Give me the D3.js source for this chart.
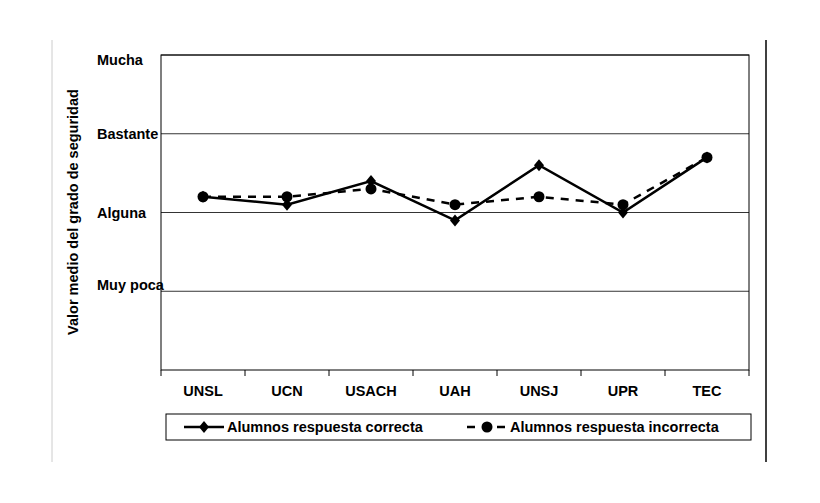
<!DOCTYPE html>
<html><head><meta charset="utf-8">
<script src="https://cdn.jsdelivr.net/npm/d3@7"></script>
<style>body{margin:0;background:#fff}text{font-family:"Liberation Sans",Arial,sans-serif;font-weight:bold}</style>
</head><body><svg id="c" width="820" height="503"></svg>
<script>
const categories = ["UNSL", "UCN", "USACH", "UAH", "UNSJ", "UPR", "TEC"];
const correcta = [2.2, 2.1, 2.4, 1.9, 2.6, 2.0, 2.7];
const incorrecta = [2.2, 2.2, 2.3, 2.1, 2.2, 2.1, 2.7];
const levels = [1, 2, 3, 4];
const levelLabels = ["Muy poca", "Alguna", "Bastante", "Mucha"];
const labelShift = [-1, 5, 5, 10];

const svg = d3.select("#c");
const L = 161, R = 749, T = 55, B = 370;
const FS = 14.5;
const x = d3.scaleBand().domain(categories).range([L, R]);
const y = d3.scaleLinear().domain([0, 4]).range([B, T]);

svg.append("line").attr("x1", 52).attr("x2", 52).attr("y1", 40).attr("y2", 462).attr("stroke", "#ccc");
svg.append("line").attr("x1", 766).attr("x2", 766).attr("y1", 40).attr("y2", 462).attr("stroke", "#000").attr("stroke-width", 1.5);

// grid
svg.selectAll(".g").data(levels).join("line")
  .attr("x1", L).attr("x2", R).attr("y1", d => y(d)).attr("y2", d => y(d))
  .attr("stroke", "#000").attr("stroke-width", 0.8);
svg.append("rect").attr("x", L).attr("y", T).attr("width", R - L).attr("height", B - T)
  .attr("fill", "none").attr("stroke", "#000");

svg.selectAll(".yl").data(levels).join("text")
  .attr("x", 97).attr("y", (d, i) => y(d) + labelShift[i]).attr("font-size", FS).text((d, i) => levelLabels[i]);

const xa = svg.append("g").attr("transform", `translate(0,${B})`)
  .call(d3.axisBottom(x).tickSize(0).tickPadding(16));
xa.select(".domain").remove();
xa.selectAll("text").attr("font-size", FS).attr("font-family", '"Liberation Sans",Arial,sans-serif').attr("fill", "#000");
svg.selectAll(".tk").data(d3.range(categories.length + 1)).join("line")
  .attr("x1", i => L + i * x.step()).attr("x2", i => L + i * x.step())
  .attr("y1", B).attr("y2", B + 6).attr("stroke", "#000");

svg.append("text").attr("transform", "translate(78,212) rotate(-90)").attr("text-anchor", "middle")
  .attr("font-size", FS).text("Valor medio del grado de seguridad");

const cx = d => x(d) + x.bandwidth() / 2;
const line = d3.line().x((d, i) => cx(categories[i])).y(d => y(d));
const diamond = "M0,-6L5,0L0,6L-5,0Z";
svg.append("path").attr("d", line(incorrecta)).attr("fill", "none").attr("stroke", "#000")
  .attr("stroke-width", 2.5).attr("stroke-dasharray", "8,7");
svg.append("path").attr("d", line(correcta)).attr("fill", "none").attr("stroke", "#000").attr("stroke-width", 2.5);
svg.selectAll(".dot").data(incorrecta).join("circle")
  .attr("cx", (d, i) => cx(categories[i])).attr("cy", d => y(d)).attr("r", 5.5).attr("fill", "#000");
svg.selectAll(".dia").data(correcta).join("path")
  .attr("d", diamond)
  .attr("transform", (d, i) => `translate(${cx(categories[i])},${y(d)})`).attr("fill", "#000");

// legend
const lg = svg.append("g");
lg.append("rect").attr("x", 166).attr("y", 414).attr("width", 585).attr("height", 26).attr("fill", "#fff").attr("stroke", "#000");
lg.append("line").attr("x1", 184).attr("x2", 224).attr("y1", 427).attr("y2", 427).attr("stroke", "#000").attr("stroke-width", 2.5);
lg.append("path").attr("d", diamond).attr("transform", "translate(204,427)");
lg.append("text").attr("x", 227).attr("y", 432).attr("font-size", FS).text("Alumnos respuesta correcta");
lg.append("line").attr("x1", 467).attr("x2", 507).attr("y1", 427).attr("y2", 427).attr("stroke", "#000").attr("stroke-width", 2.5).attr("stroke-dasharray", "8,7");
lg.append("circle").attr("cx", 487).attr("cy", 427).attr("r", 5.5);
lg.append("text").attr("x", 510).attr("y", 432).attr("font-size", FS).text("Alumnos respuesta incorrecta");
</script></body></html>
